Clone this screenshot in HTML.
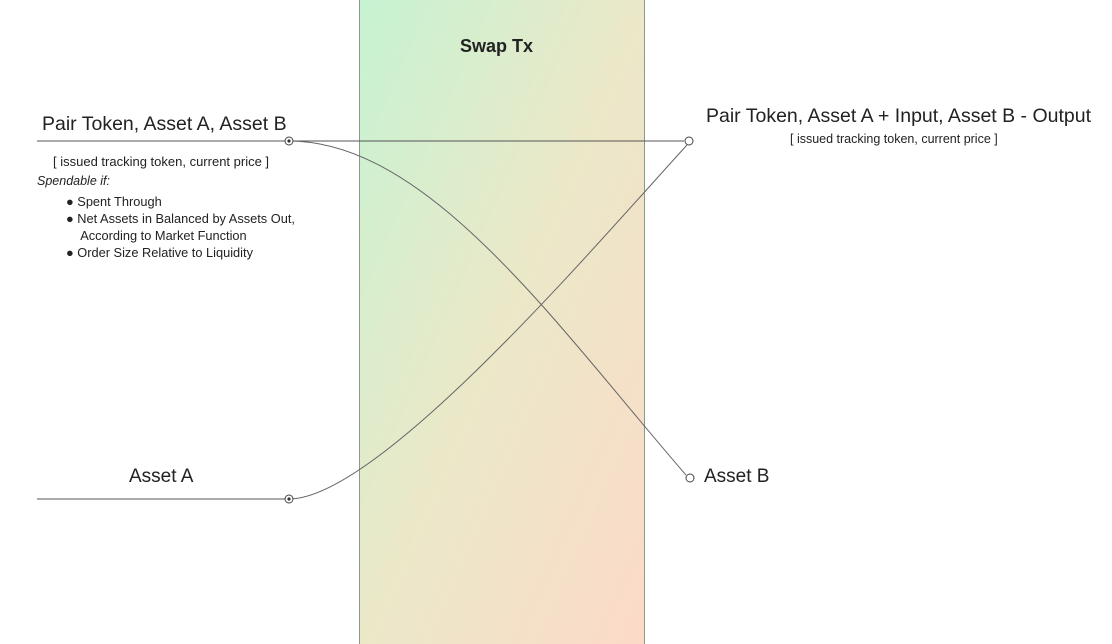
<!DOCTYPE html>
<html><head><style>
body{margin:0;width:1112px;height:644px;background:#fff;position:relative;overflow:hidden;font-family:"Liberation Sans",sans-serif;color:#222}
.t{position:absolute;white-space:nowrap}
</style></head><body>
<svg width="1112" height="644" style="position:absolute;left:0;top:0">
<defs><linearGradient id="g" x1="0" y1="0" x2="1" y2="1">
<stop offset="0" stop-color="#c6f3d2"/><stop offset="0.5" stop-color="#ebe8c8"/><stop offset="1" stop-color="#fcdac8"/></linearGradient></defs>
<rect x="359.5" y="-1" width="285" height="646" fill="url(#g)" stroke="#8a9a8a" stroke-width="1"/>
<line x1="37" y1="141" x2="684" y2="141" stroke="#555" stroke-width="1"/>
<line x1="37" y1="499" x2="285" y2="499" stroke="#555" stroke-width="1"/>
<path d="M289,141 C430,141 560,330 686,475" fill="none" stroke="#666" stroke-width="1"/>
<path d="M289,499 C380,499 600,240 687,145" fill="none" stroke="#666" stroke-width="1"/>
<circle cx="289" cy="141" r="4" fill="#fff" stroke="#444"/><circle cx="289" cy="141" r="1.6" fill="#333"/>
<circle cx="289" cy="499" r="4" fill="#fff" stroke="#444"/><circle cx="289" cy="499" r="1.6" fill="#333"/>
<circle cx="689" cy="141" r="4" fill="#fff" stroke="#444"/>
<circle cx="690" cy="478" r="4" fill="#fff" stroke="#444"/>
</svg>
<div class="t" style="left:460px;top:36px;font-size:18px;font-weight:bold">Swap Tx</div>
<div class="t" style="left:42px;top:113px;font-size:19.5px">Pair Token, Asset A, Asset B</div>
<div class="t" style="left:53px;top:154px;font-size:13px">[ issued tracking token, current price ]</div>
<div class="t" style="left:37px;top:174px;font-size:12.5px;font-style:italic">Spendable if:</div>
<div class="t" style="left:66px;top:193px;font-size:12.8px;line-height:17px">● Spent Through<br>● Net Assets in Balanced by Assets Out,<br>&nbsp;&nbsp;&nbsp;&nbsp;According to Market Function<br>● Order Size Relative to Liquidity</div>
<div class="t" style="left:129px;top:466px;font-size:19px">Asset A</div>
<div class="t" style="left:706px;top:105px;font-size:19.5px">Pair Token, Asset A + Input, Asset B - Output</div>
<div class="t" style="left:790px;top:132px;font-size:12.5px">[ issued tracking token, current price ]</div>
<div class="t" style="left:704px;top:466px;font-size:19px">Asset B</div>
</body></html>
